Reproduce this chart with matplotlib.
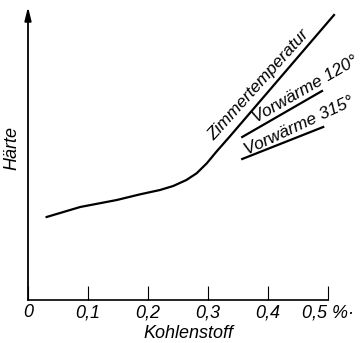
import matplotlib
matplotlib.use("Agg")
import matplotlib.pyplot as plt
import numpy as np

# Kurve bei Zimmertemperatur (x in % C, y in willkuerlichen Haerte-Einheiten)
zimmer_x = [0.031, 0.087, 0.148, 0.187, 0.22, 0.242, 0.264, 0.281, 0.298, 0.314, 0.337, 0.51]
zimmer_y = [83, 93, 100, 105.7, 110, 114, 120, 126.7, 136.7, 148.3, 164, 285]
# Vorwaerme 120 und 315 Grad
vw120_x = [0.357, 0.49]
vw120_y = [163, 209]
vw315_x = [0.357, 0.492]
vw315_y = [141, 173]

ticks = [0, 0.1, 0.2, 0.3, 0.4, 0.5]
tick_labels = ["0", "0,1", "0,2", "0,3", "0,4", "0,5 %·"]

fnt = dict(family=["Liberation Sans", "DejaVu Sans"], style="italic")

fig = plt.figure(figsize=(3.61, 3.43), dpi=100)
ax = fig.add_axes([28/361, 43/343, 330/361, 300/343])
ax.set_xlim(0, 0.55)
ax.set_ylim(0, 300)

for s in ["top", "right", "left"]:
    ax.spines[s].set_visible(False)
ax.spines["bottom"].set_bounds(0, 0.5)
ax.spines["bottom"].set_linewidth(1.2)

ax.annotate("", xy=(0, 293), xytext=(0, 0),
            arrowprops=dict(arrowstyle="-|>,head_length=0.8,head_width=0.2",
                            lw=1.3, color="black", shrinkA=0, shrinkB=0))

ax.set_xticks(ticks)
ax.set_xticklabels(tick_labels, fontsize=13, **fnt)
ax.tick_params(axis="x", direction="in", length=10, width=0.8, pad=3)
ax.set_yticks([])

# kurven
ax.plot(zimmer_x, zimmer_y, color="black", lw=1.6, solid_joinstyle="round")
ax.plot(vw120_x, vw120_y, color="black", lw=1.6)
ax.plot(vw315_x, vw315_y, color="black", lw=1.6)

ax.text(0.384, 215, "Zimmertemperatur", rotation=48, ha="center", va="center",
        fontsize=12.5, **fnt)
ax.text(0.462, 211, "Vorwärme 120°", rotation=30, ha="center", va="center",
        fontsize=12.5, **fnt)
ax.text(0.452, 174, "Vorwärme 315°", rotation=25, ha="center", va="center",
        fontsize=12.5, **fnt)

fig.text(188/361, 1 - 333/343, "Kohlenstoff", ha="center", va="center", fontsize=13, **fnt)
fig.text(12/361, 1 - 148/343, "Härte", ha="center", va="center", rotation=90, fontsize=13, **fnt)

fig.savefig("out.png", dpi=100)
